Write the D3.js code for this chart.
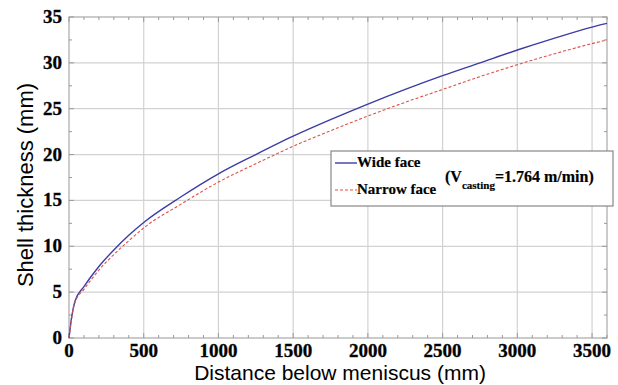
<!DOCTYPE html>
<html>
<head>
<meta charset="utf-8">
<script src="https://cdn.jsdelivr.net/npm/d3@7"></script>
<style>
  body { margin: 0; background: #fff; }
  svg { display: block; }
  .serif { font-family: 'Liberation Serif', 'DejaVu Serif', serif; font-weight: bold; stroke: #111; stroke-width: 0.35px; }
  .sans { font-family: 'Liberation Sans', Arial, sans-serif; }
</style>
</head>
<body>
<script>
const width = 618;
const height = 385;
const margin = {top: 17, right: 11, bottom: 47, left: 69};

// distance below meniscus (mm)
const distance = [0, 20, 40, 100, 200, 300, 400, 500, 750, 1000, 1250, 1500, 1750, 2000, 2250, 2500, 2750, 3000, 3250, 3500, 3600];
// shell thickness (mm)
const wideFace = [0, 2.5, 4.0, 5.6, 7.8, 9.6, 11.2, 12.6, 15.4, 17.9, 20.0, 22.0, 23.8, 25.5, 27.1, 28.6, 30.0, 31.4, 32.7, 33.9, 34.3];
const narrowFace = [0, 2.4, 3.9, 5.3, 7.4, 9.1, 10.6, 12.0, 14.6, 17.0, 19.0, 20.9, 22.6, 24.2, 25.7, 27.1, 28.5, 29.8, 31.0, 32.1, 32.5];

const xTicks = [0, 500, 1000, 1500, 2000, 2500, 3000, 3500];
const yTicks = [0, 5, 10, 15, 20, 25, 30, 35];

const svg = d3.select("body")
    .append("svg")
    .attr("width", width)
    .attr("height", height);

const x = d3.scaleLinear()
    .domain([0, 3600])
    .range([margin.left, width - margin.right]);

const y = d3.scaleLinear()
    .domain([0, 35])
    .range([height - margin.bottom, margin.top]);

const g = svg.append("g");

// grid
g.selectAll(".gx")
    .data(xTicks.slice(1))
    .enter()
    .append("line")
    .attr("x1", d => x(d)).attr("x2", d => x(d))
    .attr("y1", y(0)).attr("y2", y(35))
    .attr("stroke", "#d2d2d2")
    .attr("stroke-width", 1.2);

g.selectAll(".gy")
    .data(yTicks.slice(1, -1))
    .enter()
    .append("line")
    .attr("x1", x(0)).attr("x2", x(3600))
    .attr("y1", d => y(d)).attr("y2", d => y(d))
    .attr("stroke", "#d2d2d2")
    .attr("stroke-width", 1.2);

// frame
g.append("rect")
    .attr("x", x(0))
    .attr("y", y(35))
    .attr("width", x(3600) - x(0))
    .attr("height", y(0) - y(35))
    .attr("fill", "none")
    .attr("stroke", "#a8a8a8")
    .attr("stroke-width", 1.2);

// inner ticks
const xMinor = d3.range(0, 3601, 100);
const yMinor = d3.range(0, 35.1, 2.5);
const tickStyle = sel => sel.attr("stroke", "#999").attr("stroke-width", 1);

g.selectAll(".tb")
    .data(xMinor)
    .enter()
    .append("line")
    .attr("x1", d => x(d)).attr("x2", d => x(d))
    .attr("y1", y(0)).attr("y2", d => y(0) - (d % 500 === 0 ? 5 : 3))
    .call(tickStyle);

g.selectAll(".tt")
    .data(xMinor)
    .enter()
    .append("line")
    .attr("x1", d => x(d)).attr("x2", d => x(d))
    .attr("y1", y(35)).attr("y2", d => y(35) + (d % 500 === 0 ? 5 : 3))
    .call(tickStyle);

g.selectAll(".tl")
    .data(yMinor)
    .enter()
    .append("line")
    .attr("y1", d => y(d)).attr("y2", d => y(d))
    .attr("x1", x(0)).attr("x2", d => x(0) + (d % 5 === 0 ? 5 : 3))
    .call(tickStyle);

g.selectAll(".tr")
    .data(yMinor)
    .enter()
    .append("line")
    .attr("y1", d => y(d)).attr("y2", d => y(d))
    .attr("x1", x(3600)).attr("x2", d => x(3600) - (d % 5 === 0 ? 5 : 3))
    .call(tickStyle);

// tick labels
g.selectAll(".xl")
    .data(xTicks)
    .enter()
    .append("text")
    .attr("class", "serif")
    .attr("x", d => x(d))
    .attr("y", y(0) + 19)
    .attr("text-anchor", "middle")
    .style("font-size", "19px")
    .text(d => d);

g.selectAll(".yl")
    .data(yTicks)
    .enter()
    .append("text")
    .attr("class", "serif")
    .attr("x", x(0) - 7)
    .attr("y", d => y(d) + 6)
    .attr("text-anchor", "end")
    .style("font-size", "19px")
    .text(d => d);

// axis titles
svg.append("text")
    .attr("class", "sans")
    .attr("x", 340)
    .attr("y", 380)
    .attr("text-anchor", "middle")
    .style("font-size", "21px")
    .text("Distance below meniscus (mm)");

svg.append("text")
    .attr("class", "sans")
    .attr("transform", "translate(33,185) rotate(-90)")
    .attr("text-anchor", "middle")
    .style("font-size", "22px")
    .text("Shell thickness (mm)");

// curves
const curveLine = d3.line()
    .x((d, i) => x(distance[i]))
    .y(d => y(d))
    .curve(d3.curveMonotoneX);

g.append("path")
    .datum(wideFace)
    .attr("d", curveLine)
    .attr("fill", "none")
    .attr("stroke", "#3c3ca6")
    .attr("stroke-width", 1.4);

g.append("path")
    .datum(narrowFace)
    .attr("d", curveLine)
    .attr("fill", "none")
    .attr("stroke", "#e0504a")
    .attr("stroke-width", 1.1)
    .attr("stroke-dasharray", "3,2");

// legend
const lg = svg.append("g");

lg.append("rect")
    .attr("x", 331)
    .attr("y", 151)
    .attr("width", 282)
    .attr("height", 55)
    .attr("fill", "#fff")
    .attr("stroke", "#888")
    .attr("stroke-width", 1.2);

lg.append("line")
    .attr("x1", 335).attr("x2", 357)
    .attr("y1", 163).attr("y2", 163)
    .attr("stroke", "#3c3ca6")
    .attr("stroke-width", 1.4);

lg.append("line")
    .attr("x1", 335).attr("x2", 357)
    .attr("y1", 190).attr("y2", 190)
    .attr("stroke", "#e0504a")
    .attr("stroke-width", 1.1)
    .attr("stroke-dasharray", "3,2");

lg.append("text")
    .attr("class", "serif")
    .attr("x", 357).attr("y", 167)
    .style("font-size", "15px")
    .style("stroke-width", "0.2px")
    .text("Wide face");

lg.append("text")
    .attr("class", "serif")
    .attr("x", 357).attr("y", 194)
    .style("font-size", "15px")
    .style("stroke-width", "0.2px")
    .text("Narrow face");

const vt = lg.append("text")
    .attr("class", "serif")
    .attr("x", 445).attr("y", 182)
    .style("font-size", "16px")
    .style("stroke-width", "0.2px");
vt.append("tspan").text("(V");
vt.append("tspan").style("font-size", "11px").attr("dy", 7).text("casting");
vt.append("tspan").attr("dy", -7).text("=1.764 m/min)");
</script>
</body>
</html>
